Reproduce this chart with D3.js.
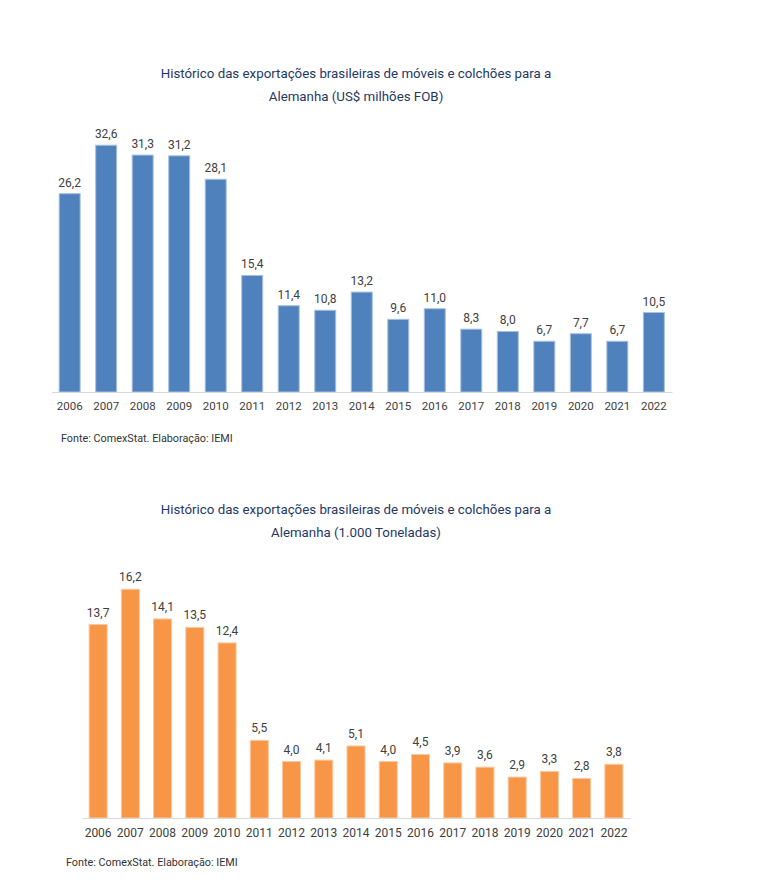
<!DOCTYPE html>
<html>
<head>
<meta charset="utf-8">
<script src="https://cdn.jsdelivr.net/npm/d3@7"></script>
<style>
  body { margin: 0; background: #fff; }
  svg { display: block; font-family: Roboto, "Noto Sans", sans-serif; }
</style>
</head>
<body>
<div id="chart"></div>
<script>
var years = ["2006", "2007", "2008", "2009", "2010", "2011", "2012", "2013", "2014",
             "2015", "2016", "2017", "2018", "2019", "2020", "2021", "2022"];
var valuesUsd = [26.2, 32.6, 31.3, 31.2, 28.1, 15.4, 11.4, 10.8, 13.2, 9.6, 11.0, 8.3, 8.0, 6.7, 7.7, 6.7, 10.5];
var valuesTon = [13.7, 16.2, 14.1, 13.5, 12.4, 5.5, 4.0, 4.1, 5.1, 4.0, 4.5, 3.9, 3.6, 2.9, 3.3, 2.8, 3.8];
var titleUsd = ["Histórico das exportações brasileiras de móveis e colchões para a", "Alemanha (US$ milhões FOB)"];
var titleTon = ["Histórico das exportações brasileiras de móveis e colchões para a", "Alemanha (1.000 Toneladas)"];
var sourceText = "Fonte: ComexStat. Elaboração: IEMI";

var fmt = function(v) { return v.toFixed(1).replace(".", ","); };

const svg = d3.select("#chart")
  .append("svg")
  .attr("width", 769)
  .attr("height", 888);

function drawChart(opts) {
  const g = svg.append("g");

  // title
  g.append("g")
    .attr("fill", "#1f3864")
    .attr("font-size", 13.3)
    .attr("text-anchor", "middle")
    .selectAll("text")
    .data(opts.title)
    .join("text")
      .attr("x", opts.titleX)
      .attr("y", (d, i) => opts.titleY + i * 23)
      .text(d => d);

  const x = d3.scaleBand()
    .domain(opts.categories)
    .range([opts.left, opts.right])
    .paddingInner(opts.padIn)
    .paddingOuter(opts.padOut);

  const y = d3.scaleLinear()
    .domain([0, opts.max])
    .range([opts.base, opts.base - opts.max * opts.pxPerUnit]);

  // bars
  g.selectAll("rect")
    .data(opts.values)
    .join("rect")
    .attr("x", (d, i) => x(opts.categories[i]))
    .attr("y", d => y(d))
    .attr("width", x.bandwidth())
    .attr("height", d => y(0) - y(d))
    .attr("fill", opts.color)
    .attr("stroke", opts.stroke)
    .attr("stroke-width", 1);

  // x axis
  const axis = g.append("g")
    .attr("transform", "translate(0," + opts.base + ")")
    .call(d3.axisBottom(x).tickSize(0).tickPadding(10));
  axis.select(".domain").attr("stroke", "#d9d9d9").attr("stroke-width", 1.2);
  axis.selectAll("text")
    .attr("fill", "#404040")
    .attr("font-size", opts.tickSize)
    .attr("font-family", "Roboto, sans-serif");

  // value labels
  g.append("g")
    .attr("fill", "#404040")
    .attr("font-size", 12)
    .attr("text-anchor", "middle")
    .selectAll("text")
    .data(opts.values)
    .join("text")
      .attr("x", (d, i) => x(opts.categories[i]) + x.bandwidth() / 2)
      .attr("y", d => y(d))
      .attr("dy", opts.labelDy)
      .text(d => fmt(d));

  // source
  g.append("text")
    .attr("x", opts.sourceX)
    .attr("y", opts.sourceY)
    .attr("fill", "#333333")
    .attr("font-size", 10.8)
    .text(sourceText);
}

drawChart({
  title: titleUsd, titleX: 356, titleY: 78,
  categories: years, values: valuesUsd, max: 35, pxPerUnit: 7.57,
  left: 51.5, right: 672, base: 392, padIn: 0.425, padOut: 0.21,
  color: "#4f81bd", stroke: "#a9c1e0", tickSize: 11.5, labelDy: -7,
  sourceX: 61, sourceY: 441.5
});

drawChart({
  title: titleTon, titleX: 356, titleY: 514,
  categories: years, values: valuesTon, max: 17, pxPerUnit: 14.12,
  left: 82, right: 630, base: 818, padIn: 0.44, padOut: 0.22,
  color: "#f79646", stroke: "#fbcaa2", tickSize: 12, labelDy: -8,
  sourceX: 66, sourceY: 865.5
});
</script>
</body>
</html>
